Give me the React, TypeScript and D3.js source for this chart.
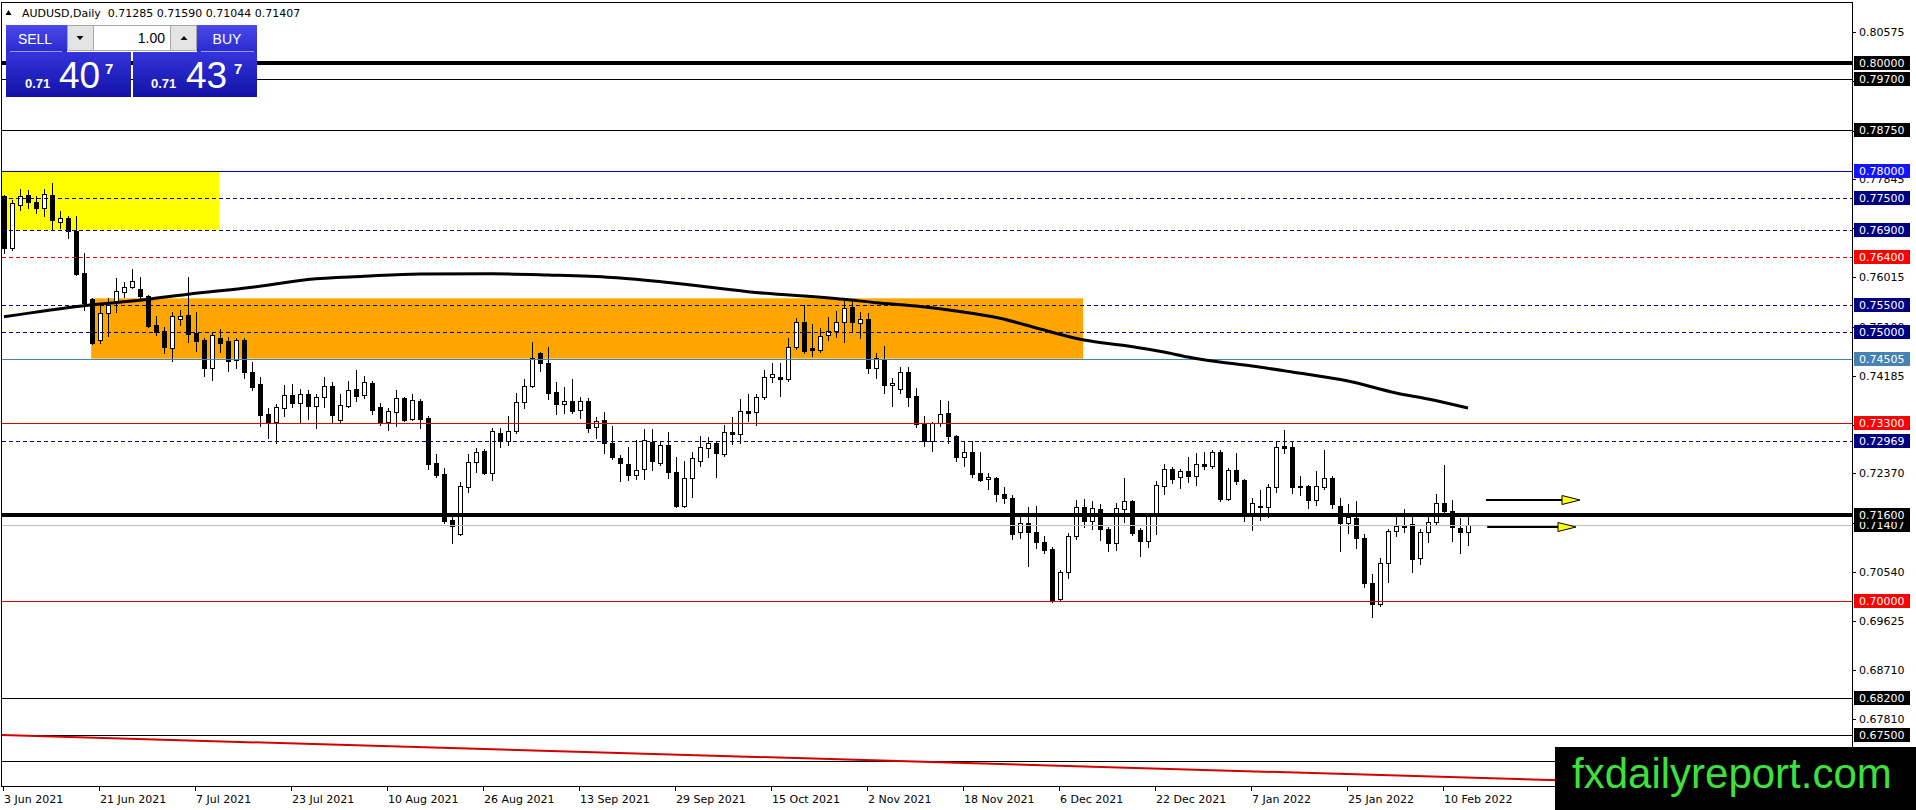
import React, { useEffect } from "react";
import * as d3 from "d3";

// ---------------- DATA ----------------
const opens = [
  0.77534, 0.76555, 0.77361, 0.77546, 0.7741, 0.77299, 0.77546, 0.77051, 0.77113, 0.76877,
  0.7609, 0.75613, 0.74851, 0.75347, 0.75564, 0.7575, 0.7583, 0.75793, 0.75675, 0.7513,
  0.75019, 0.74709, 0.75235, 0.75316, 0.74988, 0.74851, 0.74325, 0.74882, 0.74839, 0.7448,
  0.74851, 0.74263, 0.74033, 0.7347, 0.73321, 0.73581, 0.73823, 0.73674, 0.73841, 0.73631,
  0.73786, 0.73996, 0.73364, 0.73631, 0.73934, 0.73829, 0.74058, 0.736, 0.73333, 0.73519,
  0.73773, 0.73377, 0.73718, 0.73408, 0.72559, 0.72361, 0.71506, 0.71239, 0.72125, 0.7259,
  0.72788, 0.72385, 0.73117, 0.7298, 0.73166, 0.73693, 0.74003, 0.74616, 0.74418, 0.73879,
  0.73668, 0.73718, 0.7355, 0.73718, 0.73228, 0.73364, 0.72931, 0.72652, 0.72547, 0.72342,
  0.72447, 0.72962, 0.72571, 0.729, 0.72392, 0.71772, 0.7228, 0.72608, 0.72838, 0.72931,
  0.72732, 0.73135, 0.73098, 0.73532, 0.73507, 0.73798, 0.7417, 0.7417, 0.74126, 0.74727,
  0.7518, 0.74696, 0.74665, 0.74944, 0.75025, 0.7518, 0.75458, 0.75161, 0.75235, 0.74325,
  0.74498, 0.74009, 0.73934, 0.7425, 0.7381, 0.73302, 0.7298, 0.73315, 0.73488, 0.73067,
  0.72683, 0.72776, 0.72373, 0.72262, 0.7229, 0.71989, 0.71908, 0.71289, 0.71456, 0.71289,
  0.71091, 0.70967, 0.70031, 0.70533, 0.71214, 0.71741, 0.71493, 0.71704, 0.71338, 0.71072,
  0.7171, 0.71859, 0.7132, 0.71121, 0.7158, 0.72144, 0.72454, 0.72299, 0.72416, 0.7233,
  0.7254, 0.72516, 0.72763, 0.71896, 0.72435, 0.72249, 0.71617, 0.71766, 0.71753, 0.72125,
  0.72881, 0.72856, 0.72138, 0.72138, 0.71877, 0.72125, 0.72293, 0.71766, 0.71456, 0.71537,
  0.71165, 0.70341, 0.69938, 0.707, 0.71307, 0.71413, 0.71431, 0.70793, 0.71276, 0.71475,
  0.71815, 0.71679, 0.71351, 0.71285,
];
const highs = [
  0.7755, 0.77454, 0.77658, 0.77639, 0.77534, 0.77652, 0.77763, 0.77255, 0.77162, 0.77156,
  0.76462, 0.75626, 0.75502, 0.75626, 0.75997, 0.75923, 0.76165, 0.76022, 0.75688, 0.75298,
  0.75099, 0.75378, 0.75409, 0.76022, 0.75378, 0.74882, 0.74975, 0.7505, 0.74913, 0.74882,
  0.74882, 0.74449, 0.74157, 0.73581, 0.73656, 0.74015, 0.74033, 0.73941, 0.73922, 0.73848,
  0.74157, 0.74077, 0.73848, 0.74095, 0.74294, 0.74182, 0.74089, 0.73674, 0.73581, 0.73922,
  0.73786, 0.73848, 0.73755, 0.73445, 0.72726, 0.72466, 0.7158, 0.72206, 0.72726, 0.72838,
  0.72819, 0.73209, 0.73222, 0.73439, 0.7386, 0.74126, 0.7482, 0.74635, 0.74727, 0.74077,
  0.73972, 0.74126, 0.73786, 0.73767, 0.73414, 0.73519, 0.73253, 0.72714, 0.72869, 0.72993,
  0.73191, 0.73197, 0.72962, 0.73135, 0.72683, 0.72596, 0.72776, 0.73067, 0.73042, 0.72962,
  0.73271, 0.73426, 0.73755, 0.7385, 0.73841, 0.74294, 0.74418, 0.74418, 0.74882, 0.75254,
  0.75502, 0.75142, 0.75068, 0.75273, 0.7539, 0.75582, 0.75582, 0.75378, 0.75347, 0.74603,
  0.7474, 0.74139, 0.74343, 0.74343, 0.73953, 0.73439, 0.73333, 0.73736, 0.73717, 0.73086,
  0.72974, 0.72974, 0.72763, 0.72385, 0.72311, 0.72125, 0.7197, 0.71586, 0.71741, 0.71766,
  0.71208, 0.70998, 0.70576, 0.7127, 0.71877, 0.71896, 0.71859, 0.71803, 0.71382, 0.71828,
  0.7228, 0.71877, 0.71351, 0.7163, 0.72231, 0.72546, 0.72485, 0.72454, 0.7267, 0.72745,
  0.72776, 0.72807, 0.72807, 0.72466, 0.72757, 0.72262, 0.71908, 0.72063, 0.72175, 0.72974,
  0.73179, 0.72974, 0.72324, 0.72156, 0.72416, 0.72807, 0.72324, 0.71921, 0.71803, 0.71859,
  0.71245, 0.70502, 0.70793, 0.71332, 0.71586, 0.7171, 0.71586, 0.71338, 0.71586, 0.71983,
  0.72528, 0.71877, 0.71537, 0.7159,
];
const lows = [
  0.76462, 0.76518, 0.77268, 0.77311, 0.77218, 0.77162, 0.76896, 0.76927, 0.76741, 0.76059,
  0.75409, 0.74777, 0.74789, 0.74932, 0.75378, 0.75657, 0.75812, 0.75626, 0.75099, 0.74944,
  0.74604, 0.74461, 0.7513, 0.7482, 0.74647, 0.74188, 0.74108, 0.74635, 0.74281, 0.74337,
  0.74139, 0.73922, 0.73253, 0.73024, 0.72931, 0.73445, 0.736, 0.73333, 0.73383, 0.73209,
  0.736, 0.73333, 0.73302, 0.736, 0.73724, 0.73779, 0.73476, 0.73271, 0.73178, 0.73253,
  0.73346, 0.73364, 0.73222, 0.72454, 0.72299, 0.71456, 0.71084, 0.71227, 0.72032, 0.72404,
  0.72361, 0.72249, 0.72869, 0.729, 0.73117, 0.73581, 0.73972, 0.74281, 0.73755, 0.73476,
  0.73488, 0.73501, 0.73395, 0.73148, 0.73036, 0.72757, 0.72633, 0.72237, 0.72249, 0.72262,
  0.72262, 0.72435, 0.72528, 0.7228, 0.71741, 0.71753, 0.71939, 0.72516, 0.72683, 0.72299,
  0.72701, 0.72918, 0.72943, 0.73346, 0.73271, 0.73748, 0.74064, 0.73817, 0.74095, 0.74678,
  0.74603, 0.74554, 0.74634, 0.74851, 0.74901, 0.74808, 0.75025, 0.74882, 0.74232, 0.74151,
  0.7386, 0.73631, 0.73872, 0.73631, 0.7324, 0.72887, 0.72794, 0.73259, 0.72943, 0.72609,
  0.72515, 0.72299, 0.7223, 0.72082, 0.71865, 0.71828, 0.71152, 0.71165, 0.70657, 0.70979,
  0.70886, 0.69975, 0.70019, 0.70434, 0.71152, 0.71382, 0.71338, 0.71134, 0.70936, 0.70948,
  0.71475, 0.71227, 0.70843, 0.7101, 0.71239, 0.71989, 0.722, 0.72094, 0.72218, 0.72156,
  0.72454, 0.72466, 0.71859, 0.71877, 0.72175, 0.71487, 0.7132, 0.71506, 0.71568, 0.72032,
  0.72757, 0.72014, 0.7197, 0.71735, 0.71784, 0.72082, 0.71735, 0.70936, 0.71258, 0.70992,
  0.70266, 0.69709, 0.69907, 0.70359, 0.71214, 0.71276, 0.70545, 0.70682, 0.71103, 0.71431,
  0.71642, 0.71121, 0.70899, 0.71044,
];
const closes = [
  0.76568, 0.77392, 0.77534, 0.77423, 0.77299, 0.77559, 0.77076, 0.77113, 0.76877, 0.76084,
  0.75533, 0.74789, 0.75347, 0.75502, 0.75762, 0.7583, 0.75942, 0.75675, 0.75112, 0.74994,
  0.74728, 0.75298, 0.75304, 0.74957, 0.74839, 0.74337, 0.74944, 0.74802, 0.74467, 0.74851,
  0.7425, 0.73984, 0.73457, 0.73315, 0.736, 0.73823, 0.73674, 0.73841, 0.73631, 0.73786,
  0.73996, 0.73457, 0.73637, 0.73922, 0.73817, 0.74064, 0.7355, 0.73315, 0.73532, 0.73767,
  0.73364, 0.73736, 0.73383, 0.72546, 0.72342, 0.71493, 0.714, 0.72138, 0.7259, 0.72776,
  0.72373, 0.7316, 0.7298, 0.73166, 0.73693, 0.74003, 0.74523, 0.74418, 0.73872, 0.73668,
  0.73718, 0.73532, 0.73718, 0.73222, 0.73352, 0.72931, 0.7267, 0.72559, 0.72342, 0.72435,
  0.72993, 0.72602, 0.729, 0.72404, 0.71772, 0.7228, 0.72652, 0.72856, 0.72931, 0.72745,
  0.73148, 0.73098, 0.73532, 0.73501, 0.73798, 0.7417, 0.74226, 0.74133, 0.74727, 0.75192,
  0.74653, 0.74665, 0.74932, 0.75019, 0.7518, 0.7544, 0.75192, 0.75235, 0.74325, 0.74511,
  0.74009, 0.74046, 0.7425, 0.73798, 0.7329, 0.7298, 0.73315, 0.7347, 0.73067, 0.72683,
  0.72776, 0.72354, 0.72249, 0.72299, 0.71985, 0.71908, 0.71239, 0.71456, 0.71289, 0.71091,
  0.70948, 0.7, 0.70533, 0.71214, 0.71741, 0.71493, 0.71723, 0.71332, 0.71072, 0.71723,
  0.71859, 0.71258, 0.71121, 0.7158, 0.72156, 0.72454, 0.72261, 0.72416, 0.7233, 0.7254,
  0.72509, 0.72776, 0.71896, 0.72435, 0.72237, 0.71617, 0.71828, 0.71741, 0.72113, 0.72856,
  0.7285, 0.72125, 0.72113, 0.71877, 0.72138, 0.7228, 0.71797, 0.71456, 0.71555, 0.71165,
  0.70341, 0.69938, 0.707, 0.71307, 0.71394, 0.71382, 0.70775, 0.71276, 0.71475, 0.71815,
  0.71679, 0.71382, 0.71289, 0.71407,
];

// moving average (bar index -> value)
const maIndex = [0, 10, 18, 23, 31, 38, 45, 52, 61, 68, 76, 83, 93, 105, 109, 114, 119, 124.5, 129.5, 135, 140.5, 145, 148, 151, 156, 161, 168, 174, 178, 183];
const maValue = [0.75284, 0.75489, 0.75608, 0.75701, 0.75831, 0.75976, 0.76035, 0.76078, 0.76082, 0.76059, 0.76013, 0.75922, 0.75749, 0.75608, 0.75545, 0.75483, 0.7539, 0.75255, 0.75056, 0.74851, 0.7474, 0.74628, 0.74535, 0.74461, 0.74368, 0.74257, 0.74089, 0.73866, 0.73755, 0.73587];

const dateLabels = ["3 Jun 2021", "21 Jun 2021", "7 Jul 2021", "23 Jul 2021", "10 Aug 2021", "26 Aug 2021", "13 Sep 2021", "29 Sep 2021", "15 Oct 2021", "2 Nov 2021", "18 Nov 2021", "6 Dec 2021", "22 Dec 2021", "7 Jan 2022", "25 Jan 2022", "10 Feb 2022"];
const dateIndex = [0, 12, 24, 36, 48, 60, 72, 84, 96, 108, 120, 132, 144, 156, 168, 180];

const axisTicks = [0.80575, 0.7966, 0.78745, 0.77845, 0.7693, 0.76015, 0.751, 0.74185, 0.73275, 0.7237, 0.71455, 0.7054, 0.69625, 0.6871, 0.6781];

const levelPrices = [0.8, 0.797, 0.7875, 0.78, 0.775, 0.769, 0.764, 0.755, 0.75, 0.74505, 0.733, 0.72969, 0.71407, 0.716, 0.7, 0.682, 0.675, 0.6703];
const levelLabels = ["0.80000", "0.79700", "0.78750", "0.78000", "0.77500", "0.76900", "0.76400", "0.75500", "0.75000", "0.74505", "0.73300", "0.72969", "0.71407", "0.71600", "0.70000", "0.68200", "0.67500", ""];

const yellowBox = { k0: -0.25, k1: 26.9, p0: 0.78, p1: 0.769 };
const orangeBox = { k0: 10.9, k1: 134.9, p0: 0.75626, p1: 0.74505 };

const trendK = [-0.5, 193.9];
const trendP = [0.6751, 0.6667];

const arrowStartK = [185.25, 185.4];
const arrowEndK = [197, 196.5];
const arrowPrice = [0.71877, 0.71375];

const header = "AUDUSD,Daily  0.71285 0.71590 0.71044 0.71407";

// ---------------- STYLES ----------------
const NAVY = "#000080";
const levelStyles: { color: string; width: number; dash?: string; bg: string }[] = [
  { color: "#000", width: 4, bg: "#000" },
  { color: "#000", width: 1, bg: "#000" },
  { color: "#000", width: 1, bg: "#000" },
  { color: "#0000cc", width: 1, bg: "#1414ff" },
  { color: NAVY, width: 1, dash: "4,3", bg: NAVY },
  { color: NAVY, width: 1, dash: "4,3", bg: NAVY },
  { color: "#e00000", width: 1, dash: "4,3", bg: "#ff0000" },
  { color: NAVY, width: 1, dash: "4,3", bg: NAVY },
  { color: NAVY, width: 1, dash: "4,3", bg: NAVY },
  { color: "#4682b4", width: 1, bg: "#4682b4" },
  { color: "#e00000", width: 1, bg: "#ff0000" },
  { color: NAVY, width: 1, dash: "4,3", bg: NAVY },
  { color: "#c0c0c0", width: 1, bg: "#000" },
  { color: "#000", width: 4, bg: "#000" },
  { color: "#e00000", width: 1, bg: "#ff0000" },
  { color: "#000", width: 1, bg: "#000" },
  { color: "#000", width: 1, bg: "#000" },
  { color: "#000", width: 1, bg: "#000" },
];

const PLOT_L = 2;
const PLOT_R = 1852;
const PLOT_B = 786;
const FONT = "'DejaVu Sans', Verdana, sans-serif";

export default function App() {
  useEffect(() => {
    document.body.style.margin = "0";
    document.body.style.overflow = "hidden";
  }, []);

  const x = d3.scaleLinear().domain([0, 183]).range([4, 1468]);
  const y = d3.scaleLinear().domain([0.7, 0.8]).range([601, 63]);
  const ry = (p: number) => Math.round(y(p));

  const maLine = d3
    .line<number>()
    .x((_, i) => x(maIndex[i]))
    .y((v) => y(v))
    .curve(d3.curveMonotoneX)(maValue) as string;

  const candles = opens.map((o, i) => {
    const c = closes[i];
    const cx = Math.round(x(i));
    const yH = ry(highs[i]);
    const yL = ry(lows[i]);
    const yT = ry(Math.max(o, c));
    const yB = ry(Math.min(o, c));
    const bh = Math.max(yB - yT, 1);
    const bull = c >= o;
    return (
      <g key={i}>
        <rect x={cx} y={yH} width={1} height={Math.max(yL - yH + 1, 1)} fill="#000" />
        <rect x={cx - 2} y={yT} width={5} height={bh + 1} fill="#000" />
        {bull && bh > 1 ? <rect x={cx - 1} y={yT + 1} width={3} height={bh - 1} fill="#fff" /> : null}
      </g>
    );
  });

  const slope = (trendP[1] - trendP[0]) / (trendK[1] - trendK[0]);
  const kAtLeft = x.invert(PLOT_L);
  const kAtRight = x.invert(PLOT_R);
  const tY0 = y(trendP[0] + slope * (kAtLeft - trendK[0]));
  const tY1 = y(trendP[0] + slope * (kAtRight - trendK[0]));

  const blueGrad = (id: string, c1: string, c2: string) => (
    <linearGradient id={id} x1="0" y1="0" x2="0" y2="1">
      <stop offset="0" stopColor={c1} />
      <stop offset="1" stopColor={c2} />
    </linearGradient>
  );

  return (
    <svg
      width={1916}
      height={810}
      style={{ position: "absolute", left: 0, top: 0, display: "block", background: "#fff" }}
      fontFamily={FONT}
    >
      <defs>
        <clipPath id="plot">
          <rect x={PLOT_L} y={3} width={PLOT_R - PLOT_L} height={PLOT_B - 3} />
        </clipPath>
        {blueGrad("gTop", "#4a4aea", "#2a2ad0")}
        {blueGrad("gBig", "#3434dc", "#1212a6")}
      </defs>
      <rect x={0} y={0} width={1916} height={810} fill="#fff" />

      <g clipPath="url(#plot)">
        {/* background rectangles */}
        <rect
          x={x(yellowBox.k0)}
          y={y(yellowBox.p0)}
          width={x(yellowBox.k1) - x(yellowBox.k0)}
          height={y(yellowBox.p1) - y(yellowBox.p0)}
          fill="#ffff00"
        />
        <rect
          x={x(orangeBox.k0)}
          y={y(orangeBox.p0)}
          width={x(orangeBox.k1) - x(orangeBox.k0)}
          height={y(orangeBox.p1) - y(orangeBox.p0)}
          fill="#ffa500"
        />

        {/* candles */}
        <g shapeRendering="crispEdges">{candles}</g>

        {/* horizontal levels */}
        {levelPrices.map((p, i) => {
          const s = levelStyles[i];
          const yy = s.width % 2 === 1 ? ry(p) + 0.5 : ry(p);
          return (
            <line
              key={i}
              x1={PLOT_L}
              x2={PLOT_R}
              y1={yy}
              y2={yy}
              stroke={s.color}
              strokeWidth={s.width}
              strokeDasharray={s.dash}
              shapeRendering="crispEdges"
            />
          );
        })}

        {/* moving average */}
        <path d={maLine} fill="none" stroke="#000" strokeWidth={3} />

        {/* trend line */}
        <line x1={PLOT_L} y1={tY0} x2={PLOT_R} y2={tY1} stroke="#d40000" strokeWidth={2} />

        {/* arrows */}
        {arrowPrice.map((p, i) => {
          const x0 = x(arrowStartK[i]);
          const x1 = x(arrowEndK[i]);
          const yy = ry(p);
          const hx = x1 - 18;
          return (
            <g key={i}>
              <line x1={x0} x2={hx} y1={yy} y2={yy} stroke="#000" strokeWidth={2} />
              <polygon
                points={`${hx},${yy - 4.5} ${x1},${yy} ${hx},${yy + 4.5}`}
                fill="#ffff00"
                stroke="#000"
                strokeWidth={1}
              />
            </g>
          );
        })}
      </g>

      {/* frame */}
      <rect x={1.5} y={2.5} width={PLOT_R - 1.5} height={PLOT_B - 2.5} fill="none" stroke="#000" strokeWidth={1} shapeRendering="crispEdges" />

      {/* right axis tick labels */}
      <g fontSize={11} fill="#000">
        {axisTicks.map((t, i) => {
          const yy = ry(t);
          return (
            <g key={i}>
              <line x1={PLOT_R} x2={PLOT_R + 4} y1={yy + 0.5} y2={yy + 0.5} stroke="#000" shapeRendering="crispEdges" />
              <text x={1859} y={yy + 4}>{t.toFixed(5)}</text>
            </g>
          );
        })}
      </g>

      {/* level labels */}
      <g fontSize={11}>
        {levelPrices.map((p, i) => {
          if (!levelLabels[i]) return null;
          const yy = ry(p);
          return (
            <g key={i}>
              <rect x={1854} y={yy - 7} width={56} height={14} fill={levelStyles[i].bg} />
              <text x={1859} y={yy + 4} fill="#fff">{levelLabels[i]}</text>
            </g>
          );
        })}
      </g>

      {/* date axis */}
      <g fontSize={11} fill="#000">
        {dateIndex.map((k, i) => {
          const tx = Math.round(x(k)) - 1;
          return (
            <g key={i}>
              <line x1={tx + 0.5} x2={tx + 0.5} y1={PLOT_B} y2={PLOT_B + 5} stroke="#000" shapeRendering="crispEdges" />
              <text x={tx + 1} y={803}>{dateLabels[i]}</text>
            </g>
          );
        })}
      </g>

      {/* watermark */}
      <rect x={1555} y={747} width={361} height={63} fill="#000" />
      <text x={1572} y={788} fontSize={42} fill="#3ee03e" fontFamily="'Liberation Sans', Arial, sans-serif">
        fxdailyreport.com
      </text>

      {/* header */}
      <polygon points="5.5,15 11.5,15 8.5,10" fill="#000" />
      <text x={22} y={17} fontSize={11} fill="#000" style={{ whiteSpace: "pre" }}>
        {header}
      </text>

      {/* one-click trading panel */}
      <g fontFamily="'Liberation Sans', Arial, sans-serif">
        <rect x={6} y={25} width={61} height={27} fill="url(#gTop)" />
        <line x1={10} x2={62} y1={51.5} y2={51.5} stroke="#9a9aff" />
        <text x={35} y={44} fontSize={14} fill="#fff" textAnchor="middle">SELL</text>
        <rect x={197} y={25} width={60} height={27} fill="url(#gTop)" />
        <line x1={201} x2={254} y1={51.5} y2={51.5} stroke="#9a9aff" />
        <text x={227} y={44} fontSize={14} fill="#fff" textAnchor="middle">BUY</text>

        <rect x={67.5} y={25.5} width={129} height={25} fill="#e4e4e4" stroke="#a8a8a8" />
        <rect x={93.5} y={25.5} width={77} height={25} fill="#fff" stroke="#a8a8a8" />
        <polygon points="76.5,36 83.5,36 80,40" fill="#000" />
        <polygon points="180.5,40 187.5,40 184,36" fill="#000" />
        <text x={165} y={43} fontSize={14} fill="#000" textAnchor="end">1.00</text>

        <rect x={6} y={52} width={125} height={45} fill="url(#gBig)" />
        <rect x={133} y={52} width={124} height={45} fill="url(#gBig)" />

        <text x={25} y={88} fontSize={13} fontWeight="bold" fill="#fff">0.71</text>
        <text x={59} y={88} fontSize={37} fill="#fff">40</text>
        <text x={105} y={74} fontSize={15} fontWeight="bold" fill="#fff">7</text>

        <text x={151} y={88} fontSize={13} fontWeight="bold" fill="#fff">0.71</text>
        <text x={186} y={88} fontSize={37} fill="#fff">43</text>
        <text x={234} y={74} fontSize={15} fontWeight="bold" fill="#fff">7</text>
      </g>
    </svg>
  );
}
